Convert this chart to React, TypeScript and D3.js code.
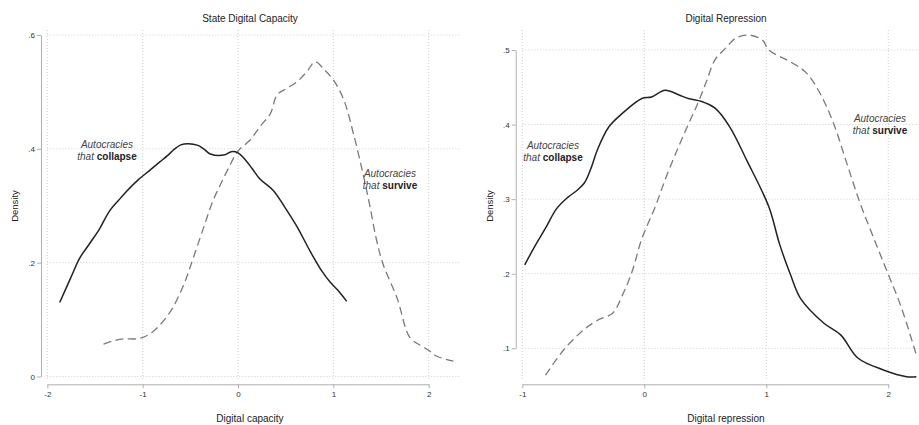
import React, { useEffect, useRef } from 'react';
import * as d3 from 'd3';

// density estimates: [x, density]
const capacityCollapse: [number, number][] = [
	[-1.87, 0.130], [-1.75, 0.175], [-1.66, 0.208], [-1.55, 0.235], [-1.45, 0.260],
	[-1.35, 0.290], [-1.25, 0.310], [-1.17, 0.325], [-1.05, 0.345], [-0.92, 0.363],
	[-0.82, 0.377], [-0.74, 0.388], [-0.67, 0.399], [-0.60, 0.407], [-0.52, 0.409],
	[-0.42, 0.406], [-0.36, 0.400], [-0.29, 0.391], [-0.15, 0.389], [-0.07, 0.395],
	[0.0, 0.393], [0.08, 0.380], [0.15, 0.365], [0.23, 0.347], [0.37, 0.327],
	[0.50, 0.295], [0.62, 0.263], [0.76, 0.219], [0.88, 0.185], [0.97, 0.165],
	[1.05, 0.151], [1.14, 0.132],
];
const capacitySurvive: [number, number][] = [
	[-1.41, 0.057], [-1.30, 0.063], [-1.20, 0.066], [-1.03, 0.067], [-0.89, 0.079],
	[-0.71, 0.114], [-0.57, 0.161], [-0.47, 0.208], [-0.36, 0.262], [-0.26, 0.310],
	[-0.19, 0.335], [-0.10, 0.366], [0.0, 0.396], [0.13, 0.416], [0.23, 0.439],
	[0.34, 0.462], [0.41, 0.495], [0.51, 0.506], [0.62, 0.518], [0.72, 0.535],
	[0.81, 0.553], [0.90, 0.540], [1.00, 0.521], [1.11, 0.486], [1.21, 0.427],
	[1.31, 0.357], [1.38, 0.302], [1.45, 0.242], [1.52, 0.198], [1.67, 0.137],
	[1.80, 0.069], [1.91, 0.055], [2.00, 0.046], [2.08, 0.036], [2.26, 0.027],
];
const repressionCollapse: [number, number][] = [
	[-0.98, 0.212], [-0.90, 0.236], [-0.81, 0.261], [-0.72, 0.287], [-0.63, 0.302],
	[-0.55, 0.312], [-0.49, 0.322], [-0.44, 0.340], [-0.38, 0.368], [-0.29, 0.397],
	[-0.18, 0.415], [-0.02, 0.435], [0.06, 0.437], [0.17, 0.446], [0.28, 0.440],
	[0.36, 0.435], [0.47, 0.431], [0.58, 0.422], [0.70, 0.397], [0.84, 0.352],
	[1.02, 0.290], [1.11, 0.239], [1.20, 0.198], [1.28, 0.167], [1.47, 0.134],
	[1.61, 0.118], [1.75, 0.087], [1.96, 0.071], [2.15, 0.062], [2.23, 0.062],
];
const repressionSurvive: [number, number][] = [
	[-0.81, 0.064], [-0.72, 0.085], [-0.65, 0.100], [-0.55, 0.117], [-0.48, 0.127],
	[-0.38, 0.138], [-0.26, 0.147], [-0.18, 0.171], [-0.10, 0.203], [-0.02, 0.247],
	[0.09, 0.290], [0.18, 0.330], [0.28, 0.370], [0.36, 0.400], [0.44, 0.429],
	[0.51, 0.458], [0.58, 0.487], [0.67, 0.503], [0.75, 0.516], [0.86, 0.520],
	[0.97, 0.513], [1.02, 0.500], [1.21, 0.483], [1.33, 0.469], [1.44, 0.442],
	[1.55, 0.402], [1.66, 0.348], [1.77, 0.294], [1.88, 0.248], [1.99, 0.203],
	[2.10, 0.158], [2.23, 0.091],
];

const capacityXTicks = [-2, -1, 0, 1, 2];
const capacityYTicks = [0, 0.2, 0.4, 0.6];
const repressionXTicks = [-1, 0, 1, 2];
const repressionYTicks = [0.1, 0.2, 0.3, 0.4, 0.5];

const titles = ['State Digital Capacity', 'Digital Repression'];
const xLabels = ['Digital capacity', 'Digital repression'];

const panels = [
	{
		title: titles[0], xLabel: xLabels[0], xTicks: capacityXTicks, yTicks: capacityYTicks,
		collapse: capacityCollapse, survive: capacitySurvive,
		x0: 47.3, x1: 428.7, y0: 376.5, y1: 35, axisX: 41, plotRight: 460,
		collapseNote: [107, 144], surviveNote: [390, 173], titleX: 250,
	},
	{
		title: titles[1], xLabel: xLabels[1], xTicks: repressionXTicks, yTicks: repressionYTicks,
		collapse: repressionCollapse, survive: repressionSurvive,
		x0: 522.3, x1: 888.3, y0: 348.3, y1: 50, axisX: 515.7, plotRight: 919,
		collapseNote: [553, 145], surviveNote: [880, 118], titleX: 726,
	},
];

const FONT = '"Liberation Sans", Arial, sans-serif';
const tickFmt = (v: number) => {
	if (Number.isInteger(v)) return String(v);
	return String(+v.toFixed(1)).replace(/^(-?)0\./, '$1.');
};

const draw = (ref: React.RefObject<SVGSVGElement | null>) => {
	const svg = d3.select(ref.current);
	svg.selectAll('*').remove();

	panels.forEach((p) => {
		const x = d3.scaleLinear()
			.domain([p.xTicks[0], p.xTicks[p.xTicks.length - 1]])
			.range([p.x0, p.x1]);
		const y = d3.scaleLinear()
			.domain([p.yTicks[0], p.yTicks[p.yTicks.length - 1]])
			.range([p.y0, p.y1]);
		const g = svg.append('g').style('font-family', FONT);

		// dotted grid
		g.selectAll('.hgrid').data(p.yTicks).enter()
			.append('line')
			.attr('x1', p.x0).attr('x2', p.plotRight)
			.attr('y1', (d) => y(d)).attr('y2', (d) => y(d))
			.attr('stroke', '#d0d0d0').attr('stroke-width', 1)
			.attr('stroke-dasharray', '1,2');
		g.selectAll('.vgrid').data(p.xTicks).enter()
			.append('line')
			.attr('x1', (d) => x(d)).attr('x2', (d) => x(d))
			.attr('y1', 30).attr('y2', 380)
			.attr('stroke', '#d0d0d0').attr('stroke-width', 1)
			.attr('stroke-dasharray', '1,2');

		// axes
		const yAxis = g.append('g')
			.attr('transform', `translate(${ p.axisX },0)`)
			.call(d3.axisLeft(y).tickValues(p.yTicks).tickSize(4)
				.tickSizeOuter(0).tickFormat((d) => tickFmt(+d)));
		const xAxis = g.append('g')
			.attr('transform', 'translate(0,384.3)')
			.call(d3.axisBottom(x).tickValues(p.xTicks).tickSize(4)
				.tickSizeOuter(0).tickFormat((d) => tickFmt(+d)));
		[yAxis, xAxis].forEach((a) => {
			a.select('.domain').attr('stroke', '#b0b0b0');
			a.selectAll('.tick line').attr('stroke', '#b0b0b0');
			a.selectAll('.tick text').attr('fill', '#333')
				.style('font-size', '8px').style('font-family', FONT);
		});
		yAxis.selectAll('.tick text').attr('x', -6);
		xAxis.selectAll('.tick text').attr('y', 7);

		// curves
		const line = d3.line<[number, number]>()
			.x((d) => x(d[0]))
			.y((d) => y(d[1]))
			.curve(d3.curveCatmullRom.alpha(0.5));
		g.append('path').datum(p.survive)
			.attr('d', line)
			.attr('fill', 'none')
			.attr('stroke', '#7a7a7a')
			.attr('stroke-width', 1.3)
			.attr('stroke-dasharray', '8,4.5');
		g.append('path').datum(p.collapse)
			.attr('d', line)
			.attr('fill', 'none')
			.attr('stroke', '#222')
			.attr('stroke-width', 1.5);

		// titles and labels
		g.append('text').attr('x', p.titleX).attr('y', 22)
			.attr('text-anchor', 'middle').attr('fill', '#222')
			.style('font-size', '10px').text(p.title);
		g.append('text').attr('x', p.titleX).attr('y', 422)
			.attr('text-anchor', 'middle').attr('fill', '#222')
			.style('font-size', '10px').text(p.xLabel);
		g.append('text')
			.attr('transform', `translate(${ p.axisX - 23 },206) rotate(-90)`)
			.attr('text-anchor', 'middle').attr('fill', '#222')
			.style('font-size', '9.5px').text('Density');

		const note = (pos: number[], word: string) => {
			g.append('text').attr('x', pos[0]).attr('y', pos[1] + 3.5)
				.attr('text-anchor', 'middle').attr('fill', '#444')
				.style('font-size', '10px').style('font-style', 'italic')
				.text('Autocracies');
			const t = g.append('text').attr('x', pos[0]).attr('y', pos[1] + 15.5)
				.attr('text-anchor', 'middle').style('font-size', '10px');
			t.append('tspan').attr('fill', '#444').style('font-style', 'italic').text('that ');
			t.append('tspan').attr('fill', '#222').style('font-weight', 'bold').text(word);
		};
		note(p.collapseNote, 'collapse');
		note(p.surviveNote, 'survive');
	});
};

const App = () => {
	const ref = useRef<SVGSVGElement>(null);

	useEffect(() => draw(ref), []);

	return (
		<svg ref={ ref } width={ 919 } height={ 425 }
			style={ { position: 'absolute', left: 0, top: 0, background: '#fff' } }/>
	);
};

export default App;
